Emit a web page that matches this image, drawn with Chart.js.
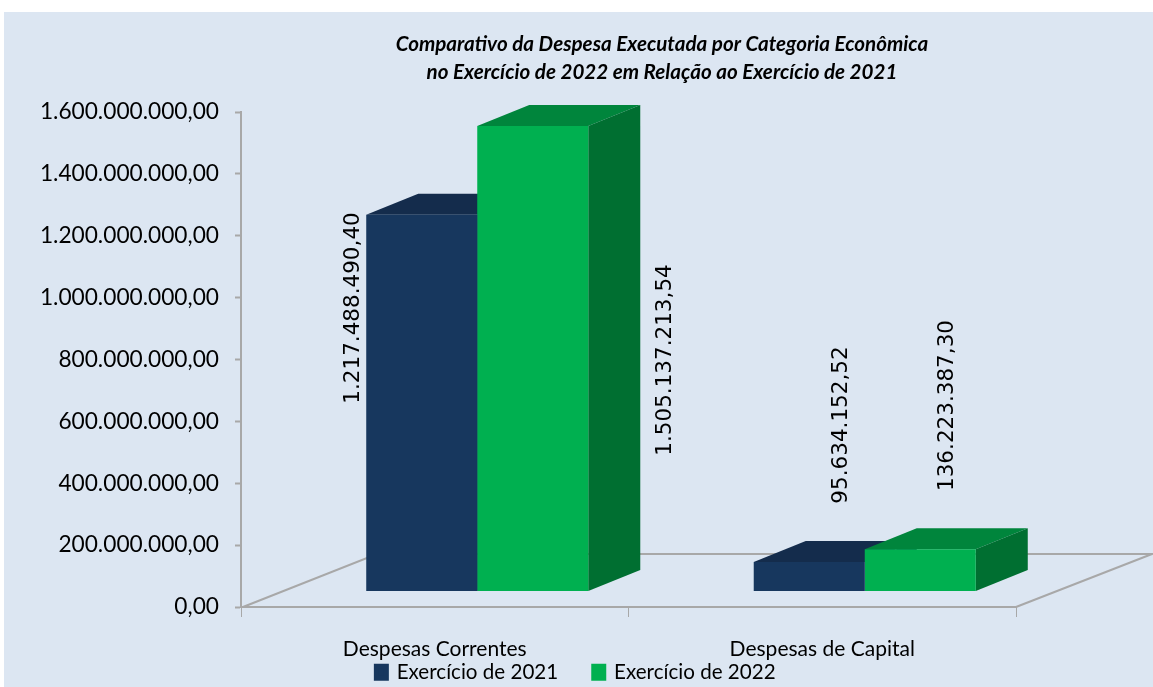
<!DOCTYPE html>
<html><head><meta charset="utf-8">
<style>html,body{margin:0;padding:0;background:#fff}#wrap{width:1153px;height:687px}</style>
<script src="https://cdn.jsdelivr.net/npm/chart.js@4"></script>
</head><body><div id="wrap"><canvas id="c" width="1153" height="687"></canvas></div>
<script>
const categories = ['Despesas Correntes', 'Despesas de Capital'];
const seriesNames = ['Exercício de 2021', 'Exercício de 2022'];
const values2021 = [1217488490.40, 95634152.52];
const values2022 = [1505137213.54, 136223387.30];
const yTicks = [0, 200000000, 400000000, 600000000, 800000000, 1000000000, 1200000000, 1400000000, 1600000000];
const titleLines = ['Comparativo da Despesa Executada por Categoria Econômica', 'no Exercício de 2022 em Relação ao Exercício de 2021'];

const BG = '#dce6f2', AXIS = '#a8a8a8';
const faces = [
  {front:'#17375e', top:'#142c4c', side:'#142c4c'},
  {front:'#00b050', top:'#00853c', side:'#006f31'}
];
// oblique projection of the depth axis
const BAR_SHIFT = {x:42.5, y:-15.5}, BAR_DEPTH = {x:52, y:-21}, FLOOR_DEPTH = {x:136, y:-53};
const LEGEND_PAD = 35.5;
const fmt = v => v.toLocaleString('pt-BR',{minimumFractionDigits:2, maximumFractionDigits:2});

function poly(ctx, pts, fill){
  ctx.beginPath(); pts.forEach((p,i)=> i?ctx.lineTo(p[0],p[1]):ctx.moveTo(p[0],p[1]));
  ctx.closePath(); ctx.fillStyle = fill; ctx.fill();
}
const scene = {
  id:'scene',
  afterLayout(chart){
    chart.titleBlock.left += 154; chart.titleBlock.right += 154;
    chart.legend.top = 662 - LEGEND_PAD;
    chart.legend.left += 68; chart.legend.right += 68;
  },
  beforeDraw(chart){
    const {ctx,width,height} = chart;
    ctx.save(); ctx.fillStyle = BG; ctx.fillRect(4,12,width-4,height-12); ctx.restore();
  },
  beforeDatasetsDraw(chart){
    const {ctx, chartArea:a} = chart;
    ctx.save();
    ctx.strokeStyle = AXIS; ctx.lineWidth = 2;
    ctx.beginPath();
    ctx.moveTo(a.left+2,a.bottom); ctx.lineTo(a.left+FLOOR_DEPTH.x,a.bottom+FLOOR_DEPTH.y);
    ctx.lineTo(a.right+FLOOR_DEPTH.x,a.bottom+FLOOR_DEPTH.y);
    ctx.lineTo(a.right,a.bottom);
    ctx.stroke();
    ctx.translate(BAR_SHIFT.x,BAR_SHIFT.y);
    [0,1].forEach(d=>{
      chart.getDatasetMeta(d).data.forEach(b=>{
        const l=b.x-b.width/2, r=b.x+b.width/2, t=b.y, bt=b.base, dx=BAR_DEPTH.x, dy=BAR_DEPTH.y;
        poly(ctx,[[l,t],[l+dx,t+dy],[r+dx,t+dy],[r,t]],faces[d].top);
        poly(ctx,[[r,t],[r+dx,t+dy],[r+dx,bt+dy],[r,bt]],faces[d].side);
      });
    });
  },
  afterDatasetsDraw(chart){
    const {ctx} = chart;
    ctx.restore();
    ctx.save();
    ctx.fillStyle = '#000'; ctx.font = '21.5px "DejaVu Sans"';
    ctx.textAlign='center'; ctx.textBaseline='middle';
    const spots = [[[353,308],[841.5,425]],[[665,360],[947,405.5]]];
    [0,1].forEach(d=>{
      const vals = d? values2022 : values2021;
      chart.getDatasetMeta(d).data.forEach((b,i)=>{
        ctx.save();
        ctx.translate(spots[d][i][0],spots[d][i][1]);
        ctx.rotate(-Math.PI/2);
        ctx.fillText(fmt(vals[i]),0,0);
        ctx.restore();
      });
    });
    ctx.restore();
  }
};
new Chart(document.getElementById('c'),{
  type:'bar',
  plugins:[scene],
  data:{labels:categories,datasets:[
    {label:seriesNames[0],data:values2021,backgroundColor:faces[0].front,borderWidth:0},
    {label:seriesNames[1],data:values2022,backgroundColor:faces[1].front,borderWidth:0}
  ]},
  options:{
    responsive:false,animation:false,devicePixelRatio:1,
    layout:{padding:{top:30,right:137,bottom:0,left:0}},
    datasets:{bar:{categoryPercentage:0.573,barPercentage:1}},
    scales:{
      x:{
        afterFit(s){s.height=56;},
        border:{color:AXIS,width:2},
        grid:{drawOnChartArea:false,color:AXIS,tickLength:10,tickWidth:1,offset:true},
        ticks:{color:'#000',font:{family:'Lato',size:21},padding:20,maxRotation:0}
      },
      y:{
        min:0,max:1600000000,
        afterFit(s){s.width=241;},
        afterBuildTicks(s){s.ticks=yTicks.map(v=>({value:v}));},
        border:{color:AXIS,width:2},
        grid:{drawOnChartArea:false,color:AXIS,tickLength:6,tickWidth:2},
        ticks:{color:'#000',font:{family:'Lato',size:22.7},padding:16,callback:v=>fmt(v)}
      }
    },
    plugins:{
      tooltip:{enabled:false},
      title:{display:true,text:titleLines,color:'#000',font:{family:'Lato',size:20.6,style:'italic',weight:'bold',lineHeight:1.36},padding:{top:0,bottom:26}},
      legend:{position:'bottom',maxHeight:24,labels:{
        boxWidth:10,boxHeight:12,color:'#000',font:{family:'Lato',size:20.6},padding:LEGEND_PAD,
        generateLabels(chart){
          return Chart.defaults.plugins.legend.labels.generateLabels(chart).map(it=>({...it,strokeStyle:it.fillStyle,lineWidth:5}));
        }
      }}
    }
  }
});
</script></body></html>
